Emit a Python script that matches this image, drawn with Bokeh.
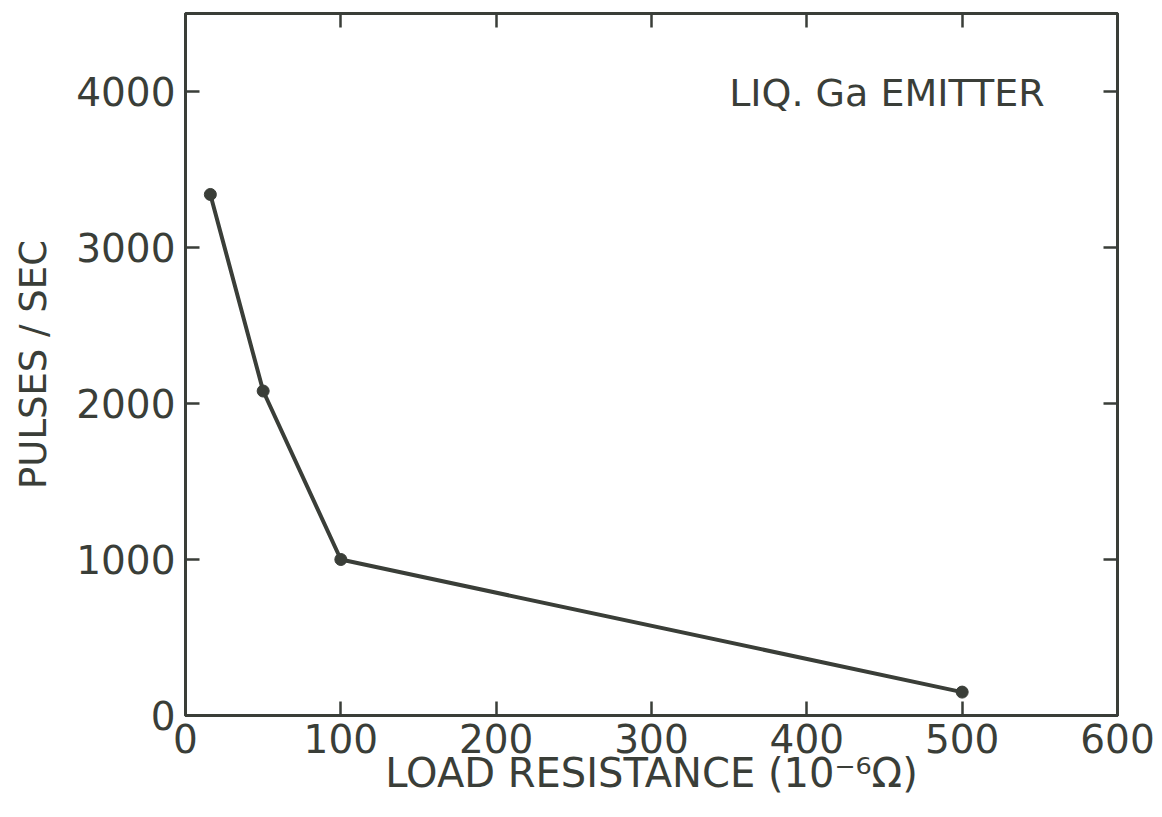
from bokeh.plotting import figure
from bokeh.models import LinearAxis, FixedTicker, Range1d, Label, CustomJSTickFormatter
from bokeh.embed import file_html
from bokeh.resources import INLINE

# Data
load_resistance = [16, 50, 100, 500]
pulses_per_sec = [3340, 2080, 1000, 150]

x_ticks = [0, 100, 200, 300, 400, 500, 600]
y_ticks = [0, 1000, 2000, 3000, 4000]
annotation = "LIQ. Ga EMITTER"
x_title = "LOAD RESISTANCE (10\u207b\u2076\u03a9)"
y_title = "PULSES / SEC"

INK = "#3a3e38"
FONT = "DejaVu Sans"

p = figure(width=1162, height=817, output_backend="svg", toolbar_location=None,
           x_range=Range1d(0, 600), y_range=Range1d(0, 4500),
           min_border_left=185, min_border_right=45, min_border_top=13, min_border_bottom=102,
           x_axis_label=x_title, y_axis_label=y_title)
p.grid.visible = False
p.background_fill_color = "white"
p.border_fill_color = "white"
p.outline_line_color = INK
p.outline_line_width = 3

for ax in p.xaxis + p.yaxis:
    ax.axis_line_color = INK
    ax.axis_line_width = 3
    ax.major_tick_line_color = INK
    ax.major_tick_line_width = 2.5
    ax.major_tick_in = 14
    ax.major_tick_out = 0
    ax.minor_tick_line_color = None
    ax.major_label_text_font = FONT
    ax.major_label_text_font_size = "39px"
    ax.major_label_text_color = INK
    ax.axis_label_text_font = FONT
    ax.axis_label_text_font_size = "40px"
    ax.axis_label_text_font_style = "normal"
    ax.axis_label_text_color = INK

p.xaxis.ticker = FixedTicker(ticks=x_ticks)
p.yaxis.ticker = FixedTicker(ticks=y_ticks)
p.xaxis.major_label_standoff = 8
p.xaxis.axis_label_standoff = -6
p.yaxis.major_label_standoff = 10
p.yaxis.axis_label_standoff = 18
p.yaxis.axis_label_text_font_size = "37px"

blank = CustomJSTickFormatter(code="return ''")
for side, ticks in (("above", x_ticks), ("right", y_ticks)):
    ax = LinearAxis(ticker=FixedTicker(ticks=ticks), formatter=blank,
                    axis_line_color=INK, axis_line_width=3, major_tick_line_color=INK,
                    major_tick_line_width=2.5, major_tick_in=14, major_tick_out=0,
                    minor_tick_line_color=None, major_label_standoff=0)
    p.add_layout(ax, side)

p.line(load_resistance, pulses_per_sec, line_color=INK, line_width=4)
p.scatter(load_resistance, pulses_per_sec, size=12, fill_color=INK, line_color=INK)

p.add_layout(Label(x=350, y=3990, text=annotation, text_font=FONT, text_font_size="38px",
                   text_color=INK, text_baseline="alphabetic"))

open("out.html", "w").write(file_html(p, INLINE))
